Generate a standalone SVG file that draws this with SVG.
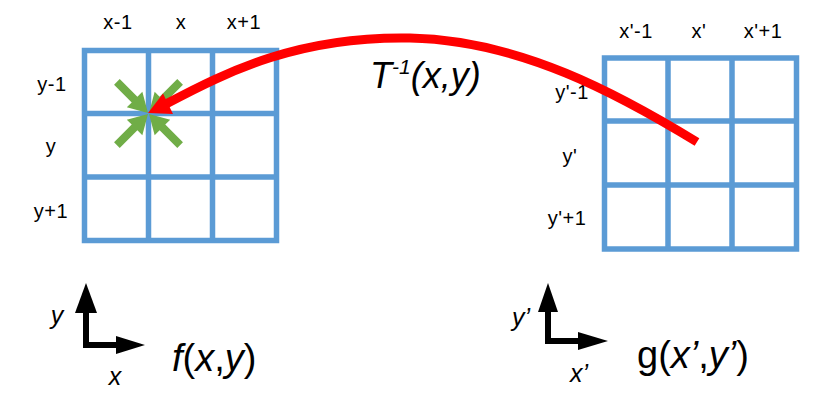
<svg xmlns="http://www.w3.org/2000/svg" width="830" height="400" viewBox="0 0 830 400">
<defs>
<style>
.grid{fill:none;stroke:#5B9BD5;stroke-width:5.5}
.lbl{font-family:"Liberation Sans",Arial,sans-serif;font-size:20px;letter-spacing:0.5px;fill:#000;text-anchor:middle}
.big{font-family:"Liberation Sans",Arial,sans-serif;fill:#000}
.it{font-style:italic}
.axis{fill:none;stroke:#000;stroke-width:6}
.ga{fill:#70AD47}
</style>
<polygon id="garrow" points="-44,-4 -19,-4 -19,-11 0,0 -19,11 -19,4 -44,4"/>
</defs>
<rect width="830" height="400" fill="#fff"/>

<g id="grid-f">
<rect class="grid" x="84.5" y="50.5" width="192" height="190"/>
<path class="grid" d="M148.5 50.5V240.5M212.5 50.5V240.5M84.5 113.5H276.5M84.5 177H276.5"/>
<text class="lbl" x="118" y="29">x-1</text>
<text class="lbl" x="181" y="29">x</text>
<text class="lbl" x="244" y="29">x+1</text>
<text class="lbl" x="52" y="91">y-1</text>
<text class="lbl" x="51" y="153">y</text>
<text class="lbl" x="51" y="218">y+1</text>
</g>

<g id="grid-g">
<rect class="grid" x="604.5" y="58" width="192" height="191"/>
<path class="grid" d="M668 58V249M732 58V249M604.5 121H796.5M604.5 185H796.5"/>
<text class="lbl" x="636" y="38">x'-1</text>
<text class="lbl" x="699" y="38">x'</text>
<text class="lbl" x="763" y="38">x'+1</text>
<text class="lbl" x="572" y="99">y'-1</text>
<text class="lbl" x="570" y="163">y'</text>
<text class="lbl" x="567" y="225">y'+1</text>
</g>

<g id="neighbours">
<use href="#garrow" class="ga" transform="translate(148,113) rotate(45)"/>
<use href="#garrow" class="ga" transform="translate(149,113) rotate(135)"/>
<use href="#garrow" class="ga" transform="translate(149,114) rotate(225)"/>
<use href="#garrow" class="ga" transform="translate(148,114) rotate(315)"/>
</g>

<g id="connectors">
<path d="M697 142 C620 95 520 40 410 38 S230 70 166 104" fill="none" stroke="#FF0000" stroke-width="9"/>
<polygon points="148,113 163,93.5 173,114" fill="#FF0000"/>
</g>

<g id="transform-label">
<text class="big it" x="370" y="88" font-size="36">T<tspan font-size="21" dy="-14">-1</tspan><tspan dy="14">(x,y)</tspan></text>
</g>

<g id="axes-f">
<path class="axis" d="M86 310V345H118"/>
<polygon points="86,283 75,313 97,313" fill="#000"/>
<polygon points="145,345 116,336 116,354" fill="#000"/>
<text class="big it" x="57" y="324" font-size="25" text-anchor="middle">y</text>
<text class="big it" x="115" y="385" font-size="25" text-anchor="middle">x</text>
<text class="big" x="172" y="371" font-size="38"><tspan class="it">f</tspan>(<tspan class="it">x</tspan>,<tspan class="it">y</tspan>)</text>
</g>

<g id="axes-g">
<path class="axis" d="M548 310V341H580"/>
<polygon points="548,283 538,312 558,312" fill="#000"/>
<polygon points="608,341 578,332 578,350" fill="#000"/>
<text class="big it" x="521" y="326" font-size="25" text-anchor="middle">y’</text>
<text class="big it" x="579" y="382" font-size="25" text-anchor="middle">x’</text>
<text class="big" x="637" y="368" font-size="38">g(<tspan class="it">x’</tspan>,<tspan class="it">y’</tspan>)</text>
</g>
</svg>
